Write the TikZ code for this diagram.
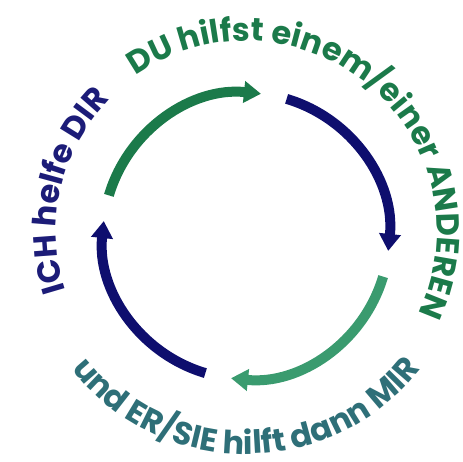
\documentclass[tikz,border=0pt]{standalone}
\usepackage{fontspec}
\setmainfont{Poppins}
\usetikzlibrary{arrows.meta,decorations.text}
\definecolor{dugreen}{HTML}{1B7A4A}
\definecolor{dunavy}{HTML}{0E0E6E}
\definecolor{erlight}{HTML}{3A9B6F}
\definecolor{ichblue}{HTML}{1C1C78}
\definecolor{erteal}{HTML}{2E6F78}
\newcommand{\cyctxt}{\fontsize{32}{32}\selectfont\bfseries}

\begin{document}
\begin{tikzpicture}[x=1pt, y=1pt,
    cyc/.style={line width=10pt, -{Triangle[width=21pt,length=17pt]}},
    ring/.style={decorate, decoration={text along path, text align=center, text={#1}}}]
  \useasboundingbox (-246,-226) rectangle (217,236);
  \coordinate (c) at (0,0);
  % the four arrows of the cycle
  \draw [cyc, dugreen] (c) ++(163.5:143) arc [start angle=163.5, end angle=84, radius=143];
  \draw [cyc, dunavy] (c) ++(73.5:143) arc [start angle=73.5, end angle=-6, radius=143];
  \draw [cyc, erlight] (c) ++(-16.5:143) arc [start angle=-16.5, end angle=-96, radius=143];
  \draw [cyc, dunavy] (c) ++(-106.5:143) arc [start angle=-106.5, end angle=-186, radius=143];
  % texts round the ring
  \begin{scope}[yshift=4]
    \path [ring={|\cyctxt\color{dugreen}|DU hilfst einem/einer ANDEREN}]
      (145:191) arc [start angle=145, end angle=-45, radius=191];
    \path [ring={|\cyctxt\color{ichblue}|ICH helfe DIR}]
      (231.8:190) arc [start angle=231.8, end angle=101.8, radius=190];
    \path [ring={|\cyctxt\color{erteal}|und ER/SIE hilft dann MIR}]
      (190:222) arc [start angle=190, end angle=350, radius=222];
  \end{scope}
\end{tikzpicture}
\end{document}
